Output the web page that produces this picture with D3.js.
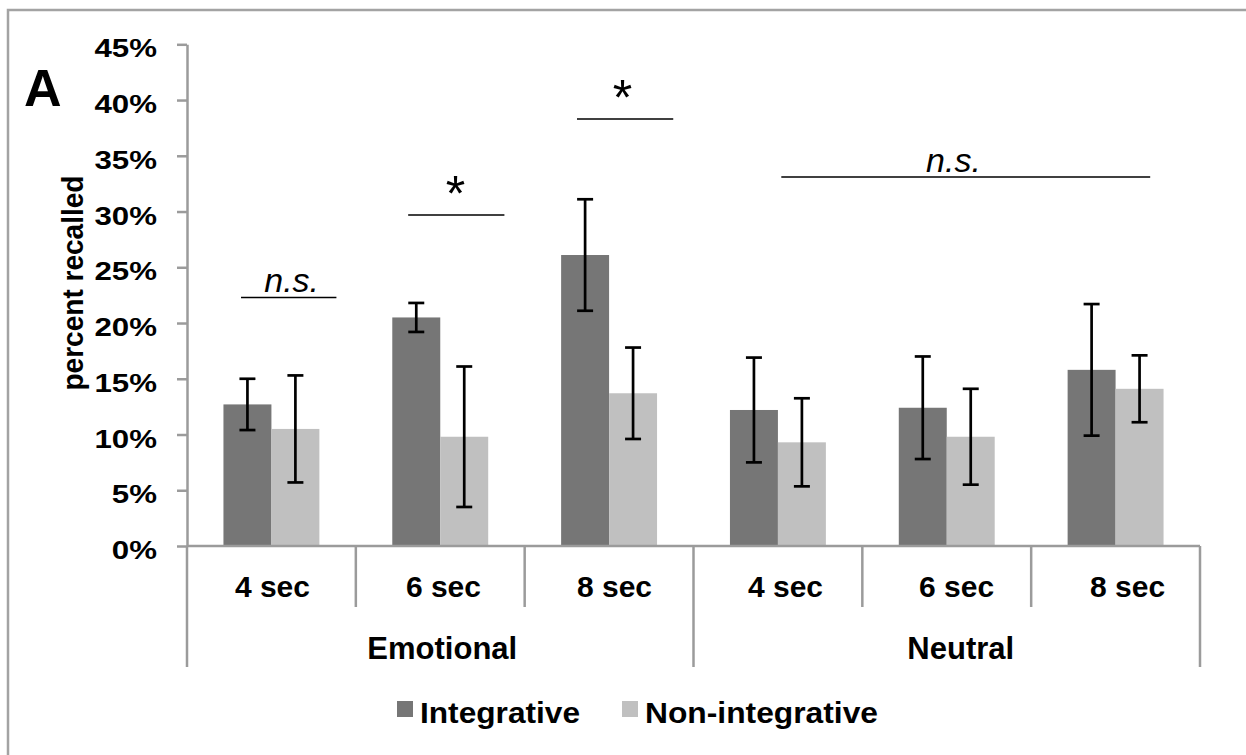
<!DOCTYPE html>
<html>
<head>
<meta charset="utf-8">
<script src="https://cdn.jsdelivr.net/npm/d3@7"></script>
<style>
    body { margin: 0; background: #fff; }
    svg { display: block; font-family: "Liberation Sans", Arial, sans-serif; }
</style>
</head>
<body>
<div id="chart"></div>
<script>
// categories
var groups = ["Emotional", "Neutral"];
var delays = ["4 sec", "6 sec", "8 sec"];
var seriesNames = ["Integrative", "Non-integrative"];

// series values (percent) and error bar half-lengths
var integrative = [12.7, 20.5, 26.1, 12.2, 12.4, 15.8];
var integrativeErr = [2.3, 1.3, 5.0, 4.7, 4.6, 5.9];
var nonIntegrative = [10.5, 9.8, 13.7, 9.3, 9.8, 14.1];
var nonIntegrativeErr = [4.8, 6.3, 4.1, 3.95, 4.3, 3.0];

// y ticks
var yTicks = [0, 5, 10, 15, 20, 25, 30, 35, 40, 45];

// significance markers: label, span in category units, height in percent
var sigLabels = ["n.s.", "*", "*", "n.s."];
var sigFrom = [0.32, 1.31, 2.31, 3.52];
var sigTo = [0.885, 1.88, 2.88, 5.705];
var sigTextAt = [0.62, 1.59, 2.58, 4.54];
var sigLevel = [22.3, 29.7, 38.3, 33.1];

var chartW = 1246, chartH = 755;
var plotLeft = 187, plotRight = 1200, plotBottom = 546, plotTop = 44.3;
var grey = "#9b9b9b";
var colors = ["#767676", "#c0c0c0"];

var categories = [];
groups.forEach(function (g) {
    delays.forEach(function (d) {
        categories.push(g + " " + d);
    });
});

var rows = categories.map(function (c, i) {
    return {
        cat: c,
        values: [
            {s: 0, v: integrative[i], e: integrativeErr[i]},
            {s: 1, v: nonIntegrative[i], e: nonIntegrativeErr[i]}
        ]
    };
});

var svg = d3.select("#chart").append("svg")
    .attr("width", chartW)
    .attr("height", chartH);

// outer frame
svg.append("rect")
    .attr("x", 8).attr("y", 10)
    .attr("width", 1260).attr("height", 780)
    .attr("fill", "none")
    .attr("stroke", "#a3a3a3")
    .attr("stroke-width", 2.5);

var yScale = d3.scaleLinear().domain([0, 45]).range([plotBottom, plotTop]);
var xScale = d3.scaleBand().domain(categories).range([plotLeft, plotRight]).padding(0);
var xSeries = d3.scaleBand().domain([0, 1]).range([0, xScale.bandwidth()])
    .paddingInner(0).paddingOuter(0.76);
var xCat = d3.scaleLinear().domain([0, 6]).range([plotLeft, plotRight]);

// y axis
var yAxis = svg.append("g")
    .attr("transform", "translate(" + plotLeft + ",0)")
    .call(d3.axisLeft(yScale).tickValues(yTicks).tickSize(10).tickSizeOuter(0)
        .tickFormat(function (d) { return d + "%"; }));

yAxis.select(".domain").attr("stroke", grey).attr("stroke-width", 2.5);
yAxis.selectAll(".tick line").attr("stroke", grey).attr("stroke-width", 2.5);
yAxis.selectAll(".tick text")
    .attr("x", -24)
    .attr("dy", "0.5em")
    .attr("transform", "scale(1.25,1)")
    .attr("fill", "#000")
    .style("font-size", "25px")
    .style("font-weight", "bold");

// bars
var barG = svg.append("g");
var catG = barG.selectAll("g.cat")
    .data(rows)
    .join("g")
    .attr("class", "cat")
    .attr("transform", function (d) { return "translate(" + xScale(d.cat) + ",0)"; });

catG.selectAll("rect")
    .data(function (d) { return d.values; })
    .join("rect")
    .attr("x", function (d) { return xSeries(d.s); })
    .attr("y", function (d) { return yScale(d.v); })
    .attr("width", xSeries.bandwidth())
    .attr("height", function (d) { return yScale(0) - yScale(d.v); })
    .attr("fill", function (d) { return colors[d.s]; });

// error bars
var capW = 8;
var errG = catG.selectAll("g.err")
    .data(function (d) { return d.values; })
    .join("g")
    .attr("class", "err")
    .attr("transform", function (d) { return "translate(" + (xSeries(d.s) + xSeries.bandwidth() / 2) + ",0)"; })
    .attr("stroke", "#000")
    .attr("stroke-width", 2.7);

errG.append("line")
    .attr("x1", 0).attr("x2", 0)
    .attr("y1", function (d) { return yScale(d.v + d.e); })
    .attr("y2", function (d) { return yScale(d.v - d.e); });
errG.append("line")
    .attr("x1", -capW).attr("x2", capW)
    .attr("y1", function (d) { return yScale(d.v + d.e); })
    .attr("y2", function (d) { return yScale(d.v + d.e); });
errG.append("line")
    .attr("x1", -capW).attr("x2", capW)
    .attr("y1", function (d) { return yScale(d.v - d.e); })
    .attr("y2", function (d) { return yScale(d.v - d.e); });

// x axis, two levels
var xAxis = svg.append("g");
xAxis.append("line")
    .attr("x1", plotLeft).attr("x2", plotRight)
    .attr("y1", plotBottom).attr("y2", plotBottom)
    .attr("stroke", grey).attr("stroke-width", 2.5);

xAxis.selectAll("line.sep")
    .data(d3.range(0, categories.length + 1))
    .join("line")
    .attr("class", "sep")
    .attr("x1", function (d) { return xCat(d); })
    .attr("x2", function (d) { return xCat(d); })
    .attr("y1", plotBottom)
    .attr("y2", function (d) { return d % delays.length == 0 ? 667 : 607; })
    .attr("stroke", grey).attr("stroke-width", 2.5);

// labels drift a little to the right in the original
xAxis.selectAll("text.cat")
    .data(categories)
    .join("text")
    .attr("class", "cat")
    .attr("x", function (d, i) { return xScale(d) + xScale.bandwidth() / 2 + 1 + 2.2 * i; })
    .attr("y", 597)
    .attr("text-anchor", "middle")
    .style("font-size", "30px")
    .style("font-weight", "bold")
    .text(function (d, i) { return delays[i % delays.length]; });

xAxis.selectAll("text.grp")
    .data(groups)
    .join("text")
    .attr("class", "grp")
    .attr("x", function (d, i) { return xCat(i * delays.length + delays.length / 2) + 2 + 12 * i; })
    .attr("y", 659)
    .attr("text-anchor", "middle")
    .style("font-size", "31px")
    .style("font-weight", "bold")
    .text(function (d) { return d; });

// y title
svg.append("text")
    .attr("transform", "translate(83,283) rotate(-90)")
    .attr("text-anchor", "middle")
    .attr("textLength", 215)
    .attr("lengthAdjust", "spacingAndGlyphs")
    .style("font-size", "30px")
    .style("font-weight", "bold")
    .text("percent recalled");

// panel letter
svg.append("text")
    .attr("x", 24).attr("y", 106)
    .style("font-size", "52px")
    .style("font-weight", "bold")
    .text("A");

// significance markers
var sigG = svg.append("g");
sigLabels.forEach(function (lab, i) {
    var y = yScale(sigLevel[i]);
    var x1 = xCat(sigFrom[i]), x2 = xCat(sigTo[i]);
    sigG.append("line")
        .attr("x1", x1).attr("x2", x2)
        .attr("y1", y).attr("y2", y)
        .attr("stroke", "#000").attr("stroke-width", 1.5);
    if (lab == "*") {
        sigG.append("text")
            .attr("x", xCat(sigTextAt[i]))
            .attr("y", y - 4)
            .attr("text-anchor", "middle")
            .style("font-size", "50px")
            .text(lab);
    } else {
        sigG.append("text")
            .attr("x", xCat(sigTextAt[i]))
            .attr("y", y - 5)
            .attr("text-anchor", "middle")
            .style("font-size", "34px")
            .style("font-style", "italic")
            .text(lab);
    }
});

// legend
var legendX = [397, 622];
var legendW = [160, 233];
var legend = svg.append("g");
seriesNames.forEach(function (name, i) {
    legend.append("rect")
        .attr("x", legendX[i]).attr("y", 701)
        .attr("width", 16).attr("height", 16)
        .attr("fill", colors[i]);
    legend.append("text")
        .attr("x", legendX[i] + 23).attr("y", 723)
        .attr("textLength", legendW[i])
        .attr("lengthAdjust", "spacingAndGlyphs")
        .style("font-size", "29px")
        .style("font-weight", "bold")
        .text(name);
});
</script>
</body>
</html>
